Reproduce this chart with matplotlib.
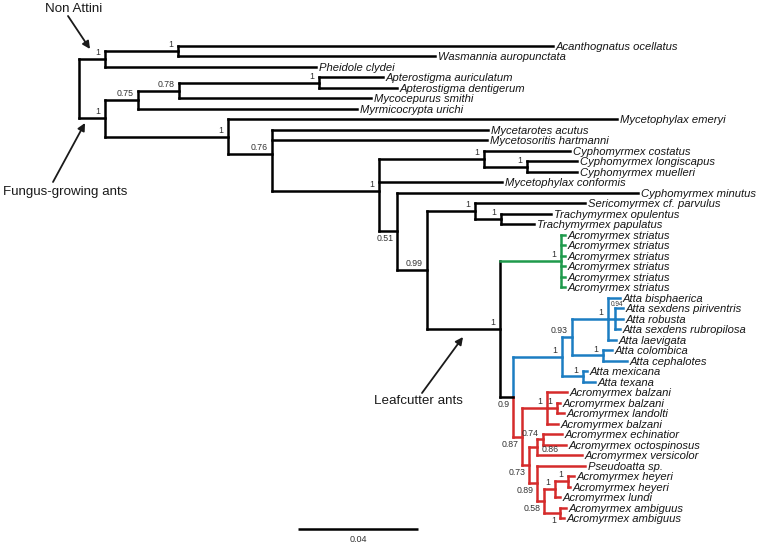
import matplotlib
matplotlib.use('Agg')
import matplotlib.pyplot as plt
from matplotlib.transforms import offset_copy

plt.rcParams['font.family'] = ['Liberation Sans', 'DejaVu Sans']

# ---------------- data ----------------
leaf_names = [
    "Acanthognatus ocellatus", "Wasmannia auropunctata", "Pheidole clydei",
    "Apterostigma auriculatum", "Apterostigma dentigerum", "Mycocepurus smithi",
    "Myrmicocrypta urichi", "Mycetophylax emeryi", "Mycetarotes acutus",
    "Mycetosoritis hartmanni", "Cyphomyrmex costatus", "Cyphomyrmex longiscapus",
    "Cyphomyrmex muelleri", "Mycetophylax conformis", "Cyphomyrmex minutus",
    "Sericomyrmex cf. parvulus", "Trachymyrmex opulentus", "Trachymyrmex papulatus",
    "Acromyrmex striatus", "Acromyrmex striatus", "Acromyrmex striatus",
    "Acromyrmex striatus", "Acromyrmex striatus", "Acromyrmex striatus",
    "Atta bisphaerica", "Atta sexdens piriventris", "Atta robusta",
    "Atta sexdens rubropilosa", "Atta laevigata", "Atta colombica",
    "Atta cephalotes", "Atta mexicana", "Atta texana",
    "Acromyrmex balzani", "Acromyrmex balzani", "Acromyrmex landolti",
    "Acromyrmex balzani", "Acromyrmex echinatior", "Acromyrmex octospinosus",
    "Acromyrmex versicolor", "Pseudoatta sp.", "Acromyrmex heyeri",
    "Acromyrmex heyeri", "Acromyrmex lundi", "Acromyrmex ambiguus",
    "Acromyrmex ambiguus",
]
leaf_parent = [2, 2, 1, 6, 6, 5, 4, 7, 8, 8, 10, 11, 11, 9, 12, 14, 15, 15,
               17, 17, 17, 17, 17, 17, 21, 22, 22, 22, 21, 23, 23, 24, 24,
               26, 27, 27, 26, 30, 30, 29, 31, 34, 34, 33, 35, 35]
# distance from root (substitutions / site)
leaf_depth = [0.1580, 0.1187, 0.0790, 0.1013, 0.1060, 0.0973, 0.0927, 0.1793,
              0.1363, 0.1360, 0.1637, 0.1660, 0.1660, 0.1410, 0.1863, 0.1687,
              0.1573, 0.1517, 0.1620, 0.1620, 0.1620, 0.1620, 0.1620, 0.1620,
              0.1803, 0.1813, 0.1813, 0.1803, 0.1790, 0.1777, 0.1827, 0.1693,
              0.1720, 0.1627, 0.1603, 0.1617, 0.1597, 0.1610, 0.1623, 0.1677,
              0.1687, 0.1650, 0.1637, 0.1603, 0.1623, 0.1617]

node_parent = [None, 0, 1, 0, 3, 4, 5, 3, 7, 8, 9, 10, 9, 12, 13, 14, 13, 16,
               16, 18, 19, 20, 21, 20, 19, 18, 25, 26, 25, 28, 29, 28, 31, 32,
               33, 32]
node_depth = [0.0, 0.0087, 0.0330, 0.0087, 0.0197, 0.0333, 0.0800, 0.0497,
              0.0643, 0.1000, 0.1350, 0.1493, 0.1060, 0.1160, 0.1320, 0.1407,
              0.1403, 0.1607, 0.1447, 0.1610, 0.1643, 0.1763, 0.1787, 0.1747,
              0.1680, 0.1477, 0.1560, 0.1593, 0.1500, 0.1527, 0.1547, 0.1527,
              0.1550, 0.1587, 0.1630, 0.1603]
node_support = ['', '1', '1', '1', '0.75', '0.78', '1', '1', '0.76', '1', '1',
                '1', '0.51', '0.99', '1', '1', '1', '1', '0.9', '1', '0.93',
                '1', '0.94', '1', '1', '0.87', '1', '1', '0.73', '0.86', '0.74',
                '0.89', '0.58', '1', '1', '1']

clade_roots = {17: 'green', 19: 'blue', 25: 'red'}

annotations = ["Non Attini", "Fungus-growing ants", "Leafcutter ants"]
scale_length = 0.04
scale_label = "0.04"

# ---------------- style ----------------
COL = {'black': '#000000', 'green': '#1f9a4c', 'blue': '#1c7dc2', 'red': '#d52b2b'}
LW = 1.8
W, H = 763, 545
X0PX, PXPER = 79.0, 3000.0          # root position, pixels per unit
Y0PX, ROWPX = 46.0, 10.489          # first leaf row, row spacing


def px2x(px):
    return (px - X0PX) / PXPER


def px2y(py):
    return (py - Y0PX) / ROWPX


fig = plt.figure(figsize=(W / 100, H / 100), dpi=100)
ax = fig.add_axes([0, 0, 1, 1])
ax.set_xlim(px2x(0), px2x(W))
ax.set_ylim(px2y(H), px2y(0))
ax.axis('off')

n_nodes = len(node_parent)
node_children = [[] for _ in range(n_nodes)]
leaf_children = [[] for _ in range(n_nodes)]
for i, p in enumerate(node_parent):
    if p is not None:
        node_children[p].append(i)
for i, p in enumerate(leaf_parent):
    leaf_children[p].append(i)

# y positions: leaves at row index, internal node = mean of children
node_y = [None] * n_nodes
for n in range(n_nodes - 1, -1, -1):
    ys = [float(i) for i in leaf_children[n]] + [node_y[c] for c in node_children[n]]
    node_y[n] = sum(ys) / len(ys)

node_col = ['black'] * n_nodes
for n in range(n_nodes):
    if n in clade_roots:
        node_col[n] = clade_roots[n]
    elif node_parent[n] is not None and node_col[node_parent[n]] != 'black':
        node_col[n] = node_col[node_parent[n]]
leaf_col = [node_col[p] for p in leaf_parent]
black_joint = {17}   # joint of this clade drawn in black

# vertical joints: one line per colour group at every internal node
for n in range(n_nodes):
    groups = {}
    for c in node_children[n]:
        vc = 'black' if c in black_joint else node_col[c]
        groups.setdefault(vc, []).append(node_y[c])
    for i in leaf_children[n]:
        groups.setdefault(leaf_col[i], []).append(float(i))
    for vc, ys in groups.items():
        ys = ys + [node_y[n]]
        ax.plot([node_depth[n]] * 2, [min(ys), max(ys)], color=COL[vc], lw=LW,
                solid_capstyle='projecting', zorder=2)

# horizontal stems
for n in range(1, n_nodes):
    p = node_parent[n]
    ax.plot([node_depth[p], node_depth[n]], [node_y[n]] * 2,
            color=COL[node_col[n]], lw=LW, solid_capstyle='projecting', zorder=3)

for i, p in enumerate(leaf_parent):
    ax.plot([node_depth[p], leaf_depth[i]], [i, i], color=COL[leaf_col[i]],
            lw=LW, solid_capstyle='projecting', zorder=3)
    tr = offset_copy(ax.transData, fig=fig, x=2.8, y=-4.0, units='dots')
    ax.text(leaf_depth[i], i, leaf_names[i], transform=tr, fontsize=8.15,
            style='italic', ha='left', va='baseline', color='#161616')

# support values
below_left = {12, 18, 25, 28, 31, 32, 35}
for n in range(n_nodes):
    s = node_support[n]
    if not s:
        continue
    x, y = node_depth[n], node_y[n]
    fs = 6.3
    if n == 22:
        top = min(float(i) for i in leaf_children[n])
        tr = offset_copy(ax.transData, fig=fig, x=1.5, y=2.5, units='dots')
        ax.text(x, top, s, transform=tr, fontsize=4.7, ha='center',
                va='baseline', color='#333333')
        continue
    if n == 29:
        tr = offset_copy(ax.transData, fig=fig, x=5, y=-5.0, units='dots')
        ax.text(x, y, s, transform=tr, fontsize=fs, ha='left', va='baseline',
                color='#333333')
        continue
    if n in below_left:
        tr = offset_copy(ax.transData, fig=fig, x=-3.5, y=-10.0, units='dots')
    else:
        tr = offset_copy(ax.transData, fig=fig, x=-4.5, y=3.8, units='dots')
    ax.text(x, y, s, transform=tr, fontsize=fs, ha='right', va='baseline',
            color='#333333')

# annotations with arrows
arrow_kw = dict(arrowstyle='-|>', lw=1.3, color='#1a1a1a', mutation_scale=11,
                shrinkA=0, shrinkB=0)
ax.text(px2x(74), px2y(8.5), annotations[0], fontsize=9.6, ha='center',
        va='center', color='#1a1a1a')
ax.annotate('', xy=(px2x(90), px2y(49)), xytext=(px2x(68), px2y(16)),
            arrowprops=arrow_kw)
ax.text(px2x(3), px2y(192), annotations[1], fontsize=9.6, ha='left',
        va='center', color='#1a1a1a')
ax.annotate('', xy=(px2x(85), px2y(123)), xytext=(px2x(53), px2y(182)),
            arrowprops=arrow_kw)
ax.text(px2x(374), px2y(401), annotations[2], fontsize=9.6, ha='left',
        va='center', color='#1a1a1a')
ax.annotate('', xy=(px2x(463), px2y(337)), xytext=(px2x(422), px2y(393)),
            arrowprops=arrow_kw)

# scale bar
sb_x = px2x(298)
sb_y = px2y(529)
ax.plot([sb_x, sb_x + scale_length], [sb_y, sb_y], color='black', lw=LW,
        solid_capstyle='butt')
ax.text(sb_x + scale_length / 2, px2y(539), scale_label, fontsize=6.5,
        ha='center', va='center', color='#333333')

fig.savefig('out.png', dpi=100)
